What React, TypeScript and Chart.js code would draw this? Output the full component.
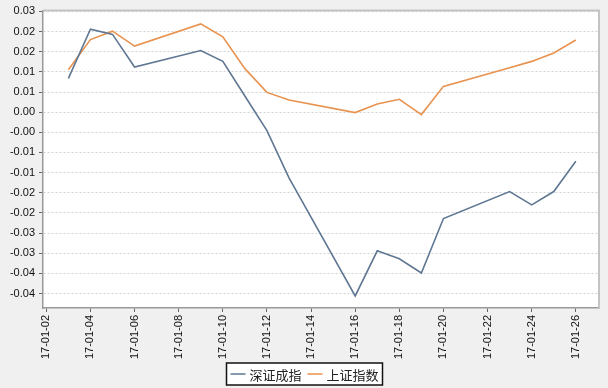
import React, { useEffect, useRef } from "react";
import { Chart, registerables } from "chart.js";

Chart.register(...registerables);

const dates = [
  "17-01-03", "17-01-04", "17-01-05", "17-01-06", "17-01-09", "17-01-10",
  "17-01-11", "17-01-12", "17-01-13", "17-01-16", "17-01-17", "17-01-18",
  "17-01-19", "17-01-20", "17-01-23", "17-01-24", "17-01-25", "17-01-26",
];
const shenzhen = [
  0.0109, 0.0231, 0.0218, 0.0137, 0.0178, 0.0151, 0.0065, -0.0021, -0.0138,
  -0.0431, -0.0319, -0.0339, -0.0374, -0.0239, -0.0172, -0.0205, -0.0172, -0.0097,
];
const shanghai = [
  0.013, 0.0205, 0.0226, 0.0189, 0.0244, 0.0212, 0.0133, 0.0074, 0.0055,
  0.0024, 0.0045, 0.0057, 0.0019, 0.0089, 0.0135, 0.0151, 0.0172, 0.0204,
];
const seriesNames = ["深证成指", "上证指数"];
const seriesColors = ["#5f7792", "#e8924f"];

const xTickDays = [2, 4, 6, 8, 10, 12, 14, 16, 18, 20, 22, 24, 26];
const xTickLabels = [
  "17-01-02", "17-01-04", "17-01-06", "17-01-08", "17-01-10", "17-01-12",
  "17-01-14", "17-01-16", "17-01-18", "17-01-20", "17-01-22", "17-01-24", "17-01-26",
];
const yTickValues = [
  0.0275, 0.0225, 0.0175, 0.0125, 0.0075, 0.0025, -0.0025, -0.0075, -0.0125,
  -0.0175, -0.0225, -0.0275, -0.0325, -0.0375, -0.0425,
];
const yTickLabels = [
  "0.03", "0.02", "0.02", "0.01", "0.01", "0.00", "-0.00", "-0.01", "-0.01",
  "-0.02", "-0.02", "-0.03", "-0.03", "-0.04", "-0.04",
];

const dayOf = (d: string) => Number(d.slice(6));

const plotBg = {
  id: "plotBg",
  beforeDraw(chart: any) {
    const { ctx, chartArea: a } = chart;
    ctx.save();
    ctx.fillStyle = "#ffffff";
    ctx.fillRect(a.left, a.top, a.right - a.left, a.bottom - a.top);
    ctx.restore();
  },
  afterDatasetsDraw(chart: any) {
    const { ctx, chartArea: a } = chart;
    ctx.save();
    ctx.strokeStyle = "#c4c4c4";
    ctx.lineWidth = 2;
    ctx.beginPath();
    ctx.moveTo(a.left, a.top);
    ctx.lineTo(a.right, a.top);
    ctx.lineTo(a.right, a.bottom);
    ctx.stroke();
    ctx.restore();
  },
};

const boxLegend = {
  id: "boxLegend",
  afterDraw(chart: any) {
    const ctx = chart.ctx;
    ctx.save();
    ctx.font = "13px 'Noto Sans CJK SC'";
    const items = chart.data.datasets.map((ds: any) => ({ label: ds.label, color: ds.borderColor }));
    const lineLen = 15, gap = 4, itemGap = 6, padX = 4;
    const widths = items.map((it: any) => lineLen + gap + ctx.measureText(it.label).width);
    const total = padX * 2 + widths.reduce((a: number, b: number) => a + b, 0) + itemGap * (items.length - 1);
    const top = 363, h = 22;
    let x = Math.round(chart.width / 2 - total / 2) + 0.5;
    ctx.fillStyle = "#ffffff";
    ctx.fillRect(x, top, total, h);
    ctx.strokeStyle = "#111111";
    ctx.lineWidth = 1.5;
    ctx.strokeRect(x, top, total, h);
    let cx = x + padX;
    const cy = top + h / 2;
    items.forEach((it: any, i: number) => {
      ctx.strokeStyle = it.color;
      ctx.lineWidth = 1.5;
      ctx.beginPath();
      ctx.moveTo(cx, cy);
      ctx.lineTo(cx + lineLen, cy);
      ctx.stroke();
      ctx.fillStyle = "#222222";
      ctx.textBaseline = "middle";
      ctx.textAlign = "left";
      ctx.fillText(it.label, cx + lineLen + gap, cy + 1);
      cx += widths[i] + itemGap;
    });
    ctx.restore();
  },
};

export default function App() {
  const ref = useRef<HTMLCanvasElement | null>(null);
  useEffect(() => {
    if (!ref.current) return;
    const chart = new Chart(ref.current, {
      type: "line",
      data: {
        datasets: [
          {
            label: seriesNames[0],
            data: dates.map((d, i) => ({ x: dayOf(d), y: shenzhen[i] })),
            borderColor: seriesColors[0],
            backgroundColor: seriesColors[0],
            borderWidth: 1.6,
            pointRadius: 0,
            tension: 0,
          },
          {
            label: seriesNames[1],
            data: dates.map((d, i) => ({ x: dayOf(d), y: shanghai[i] })),
            borderColor: seriesColors[1],
            backgroundColor: seriesColors[1],
            borderWidth: 1.6,
            pointRadius: 0,
            tension: 0,
          },
        ],
      },
      options: {
        animation: false,
        responsive: false,
        maintainAspectRatio: false,
        layout: { padding: { left: 0, top: 5, right: 9, bottom: 22 } },
        plugins: {
          legend: { display: false },
          tooltip: { enabled: false },
        },
        scales: {
          x: {
            type: "linear",
            min: 1.85,
            max: 27.05,
            afterBuildTicks: (scale: any) => {
              scale.ticks = xTickDays.map((v) => ({ value: v }));
            },
            afterFit: (scale: any) => {
              scale.height = 58;
            },
            ticks: {
              autoSkip: false,
              minRotation: 90,
              maxRotation: 90,
              padding: 3,
              color: "#111111",
              font: { family: "'Liberation Sans', Arial, sans-serif", size: 11 },
              callback: (_v: any, i: number) => xTickLabels[i],
            },
            grid: {
              drawOnChartArea: false,
              drawTicks: true,
              tickLength: 4,
              tickColor: "#666666",
            },
            border: { display: true, color: "#999999", width: 1.5 },
          },
          y: {
            type: "linear",
            min: -0.0461,
            max: 0.0277,
            afterBuildTicks: (scale: any) => {
              scale.ticks = yTickValues.map((v) => ({ value: v }));
            },
            afterFit: (scale: any) => {
              scale.width = 43;
            },
            ticks: {
              autoSkip: false,
              padding: 4,
              color: "#111111",
              font: { family: "'Liberation Sans', Arial, sans-serif", size: 11 },
              callback: (_v: any, i: number) => yTickLabels[i],
            },
            grid: {
              color: "#d2d2d2",
              lineWidth: 1,
              drawTicks: true,
              tickLength: 4,
              tickColor: "#666666",
              tickBorderDash: [],
            },
            border: { display: true, color: "#999999", width: 1.5, dash: [2, 2] },
          },
        },
      },
      plugins: [plotBg, boxLegend],
    });
    return () => chart.destroy();
  }, []);
  return (
    <div
      style={{
        position: "absolute",
        left: 0,
        top: 0,
        width: 608,
        height: 388,
        background: "#f0f0f0",
      }}
    >
      <canvas ref={ref} width={608} height={388} style={{ display: "block" }} />
    </div>
  );
}
